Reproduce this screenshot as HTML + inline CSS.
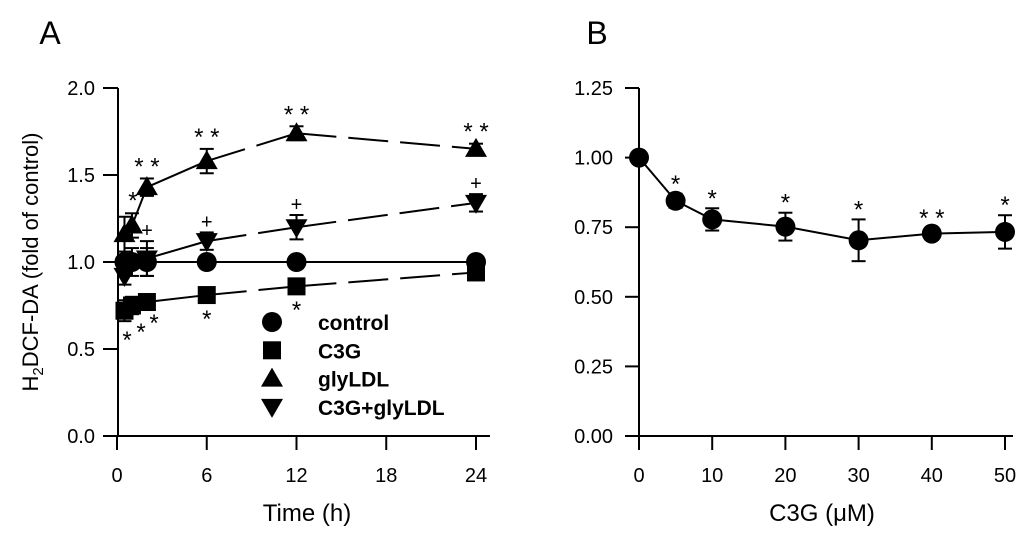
<!DOCTYPE html>
<html><head><meta charset="utf-8"><style>
body{margin:0;background:#fff;}
svg{display:block;font-family:"Liberation Sans",Arial,sans-serif;}
</style></head><body>
<svg id="c" width="1024" height="535" viewBox="0 0 1024 535"></svg>
<script>
// Panel A data
const timesA = [0.5, 1, 2, 6, 12, 24];
const controlVals = [1.0, 1.0, 1.0, 1.0, 1.0, 1.0];
const controlErr = [0.03, 0.03, 0.08, 0.02, 0.02, 0.02];
const c3gVals = [0.72, 0.75, 0.77, 0.81, 0.86, 0.94];
const c3gErr = [0.06, 0.05, 0.03, 0.02, 0.02, 0.02];
const glyVals = [1.16, 1.21, 1.43, 1.58, 1.74, 1.65];
const glyErr = [0.1, 0.07, 0.05, 0.07, 0.04, 0.03];
const comboVals = [0.92, 1.0, 1.02, 1.12, 1.20, 1.34];
const comboErr = [0.05, 0.08, 0.1, 0.05, 0.07, 0.05];
const ticksAx = [0, 6, 12, 18, 24];
const ticksAy = ["0.0", "0.5", "1.0", "1.5", "2.0"];
// Panel B data
const concB = [0, 5, 10, 20, 30, 40, 50];
const valsB = [1.0, 0.845, 0.778, 0.752, 0.703, 0.727, 0.733];
const errB = [0.01, 0.025, 0.04, 0.05, 0.075, 0.02, 0.06];
const starsB = ["", "*", "*", "*", "*", "**", "*"];
const ticksBx = [0, 10, 20, 30, 40, 50];
const ticksBy = ["0.00", "0.25", "0.50", "0.75", "1.00", "1.25"];

const svg = document.getElementById('c');
const NS = 'http://www.w3.org/2000/svg';
function mk(tag, attrs, parent) {
  const e = document.createElementNS(NS, tag);
  for (const k in attrs) e.setAttribute(k, attrs[k]);
  (parent || svg).appendChild(e);
  return e;
}
function txt(x, y, s, size, anchor, weight) {
  const t = mk('text', {x: x, y: y, 'font-size': size, 'text-anchor': anchor || 'middle', 'font-weight': weight || 'normal', fill: '#000'});
  t.textContent = s;
  return t;
}
const yTop = 88, yBot = 436;
const ax = t => 117 + t * (476 - 117) / 24;
const ay = v => yBot - v * (yBot - yTop) / 2;
const bx = c => 639 + c * (1005 - 639) / 50;
const by = v => yBot - v * (yBot - yTop) / 1.25;

let e;
e = txt(50, 44, 'A', 32);  
e = txt(597, 44, 'B', 32);  

// Panel A axes
e = mk('line', {x1: 118, y1: yTop, x2: 118, y2: yBot, stroke: '#000', 'stroke-width': 2});
 
e = mk('line', {x1: 103, y1: yBot, x2: 490, y2: yBot, stroke: '#000', 'stroke-width': 2});
 
ticksAy.forEach((l, i) => {
  const v = parseFloat(l);
  mk('line', {x1: 103, y1: ay(v), x2: 118, y2: ay(v), stroke: '#000', 'stroke-width': 2});
  e = txt(95, ay(v) + 7, l, 20, 'end');
   
});
ticksAx.forEach(t => {
  mk('line', {x1: ax(t), y1: yBot, x2: ax(t), y2: yBot + 14, stroke: '#000', 'stroke-width': 2});
  e = txt(ax(t), 482, String(t), 20);
   
});
e = txt(307, 521, 'Time (h)', 24);
 
e = mk('text', {x: 0, y: 0, 'font-size': 22, 'text-anchor': 'middle', transform: 'translate(38,262) rotate(-90)'});
e.innerHTML = 'H<tspan font-size="15" dy="5">2</tspan><tspan dy="-5">DCF-DA (fold of control)</tspan>';
 

function marker(shape, x, y, g) {
  if (shape === 'circle') return mk('circle', {cx: x, cy: y, r: 10, fill: '#000'}, g);
  if (shape === 'square') return mk('rect', {x: x - 9, y: y - 9, width: 18, height: 18, fill: '#000'}, g);
  if (shape === 'up') return mk('polygon', {points: `${x},${y-11} ${x-11},${y+8} ${x+11},${y+8}`, fill: '#000'}, g);
  return mk('polygon', {points: `${x},${y+11} ${x-11},${y-8} ${x+11},${y-8}`, fill: '#000'}, g);
}
function errbar(x, y1, y2, g) {
  mk('line', {x1: x, y1: y1, x2: x, y2: y2, stroke: '#000', 'stroke-width': 2}, g);
  mk('line', {x1: x - 7, y1: y1, x2: x + 7, y2: y1, stroke: '#000', 'stroke-width': 2}, g);
  mk('line', {x1: x - 7, y1: y2, x2: x + 7, y2: y2, stroke: '#000', 'stroke-width': 2}, g);
}
const seriesA = [
  {name: 'control', vals: controlVals, err: controlErr, shape: 'circle', dashed: false},
  {name: 'c3g', vals: c3gVals, err: c3gErr, shape: 'square', dashed: true},
  {name: 'glyldl', vals: glyVals, err: glyErr, shape: 'up', dashed: true},
  {name: 'c3g-glyldl', vals: comboVals, err: comboErr, shape: 'down', dashed: true}
];
seriesA.forEach(s => {
  const g = mk('g', {});
   
  for (let i = 0; i < timesA.length - 1; i++) {
    const a = {stroke: '#000', 'stroke-width': 2, x1: ax(timesA[i]), y1: ay(s.vals[i]), x2: ax(timesA[i+1]), y2: ay(s.vals[i+1])};
    if (s.dashed && timesA[i] >= 6) a['stroke-dasharray'] = '40 12';
    mk('line', a, g);
  }
  timesA.forEach((t, i) => {
    errbar(ax(t), ay(s.vals[i] + s.err[i]), ay(s.vals[i] - s.err[i]), g);
    const m = marker(s.shape, ax(t), ay(s.vals[i]), g);
     
  });
});
function mark(x, y, s, size) { e = txt(x, y, s, size || 24);   }
mark(ax(1) + 1, ay(glyVals[1] + glyErr[1]) - 5, '*');
[2, 3, 4, 5].forEach(i => mark(ax(timesA[i]), ay(glyVals[i] + glyErr[i]) - 4, '* *'));
[2, 3, 4, 5].forEach(i => mark(ax(timesA[i]), ay(comboVals[i] + comboErr[i]) - 4, '+', 20));
mark(127, 348, '*'); mark(141, 340, '*'); mark(154, 331, '*');
mark(ax(6), 327, '*'); mark(ax(12), 318, '*');

// Legend
const legNames = ['control', 'C3G', 'glyLDL', 'C3G+glyLDL'];
const legShapes = ['circle', 'square', 'up', 'down'];
legNames.forEach((n, i) => {
  const g = mk('g', {});
   
  const y = 322 + i * 28.3;
  marker(legShapes[i], 272, y, g);
  const t = mk('text', {x: 318, y: y + 8, 'font-size': 21, 'font-weight': 'bold'}, g);
  t.textContent = n;
});

// Panel B axes
e = mk('line', {x1: 639, y1: yTop, x2: 639, y2: yBot, stroke: '#000', 'stroke-width': 2});
 
e = mk('line', {x1: 625, y1: yBot, x2: 1013, y2: yBot, stroke: '#000', 'stroke-width': 2});
 
ticksBy.forEach(l => {
  const v = parseFloat(l);
  mk('line', {x1: 625, y1: by(v), x2: 639, y2: by(v), stroke: '#000', 'stroke-width': 2});
  e = txt(613, by(v) + 7, l, 20, 'end');
   
});
ticksBx.forEach(t => {
  mk('line', {x1: bx(t), y1: yBot, x2: bx(t), y2: yBot + 14, stroke: '#000', 'stroke-width': 2});
  e = txt(bx(t), 482, String(t), 20);
   
});
e = txt(822, 521, 'C3G (μM)', 24);
 
const gB = mk('g', {});
 
let d = '';
concB.forEach((c, i) => { d += (i ? 'L' : 'M') + bx(c) + ',' + by(valsB[i]); });
mk('path', {d: d, fill: 'none', stroke: '#000', 'stroke-width': 2}, gB);
concB.forEach((c, i) => {
  errbar(bx(c), by(valsB[i] + errB[i]), by(valsB[i] - errB[i]), gB);
  const m = marker('circle', bx(c), by(valsB[i]), gB);
   
  if (starsB[i]) mark(bx(c), by(valsB[i] + errB[i]) - 2, starsB[i].split('').join(' '));
});
</script>
</body></html>
